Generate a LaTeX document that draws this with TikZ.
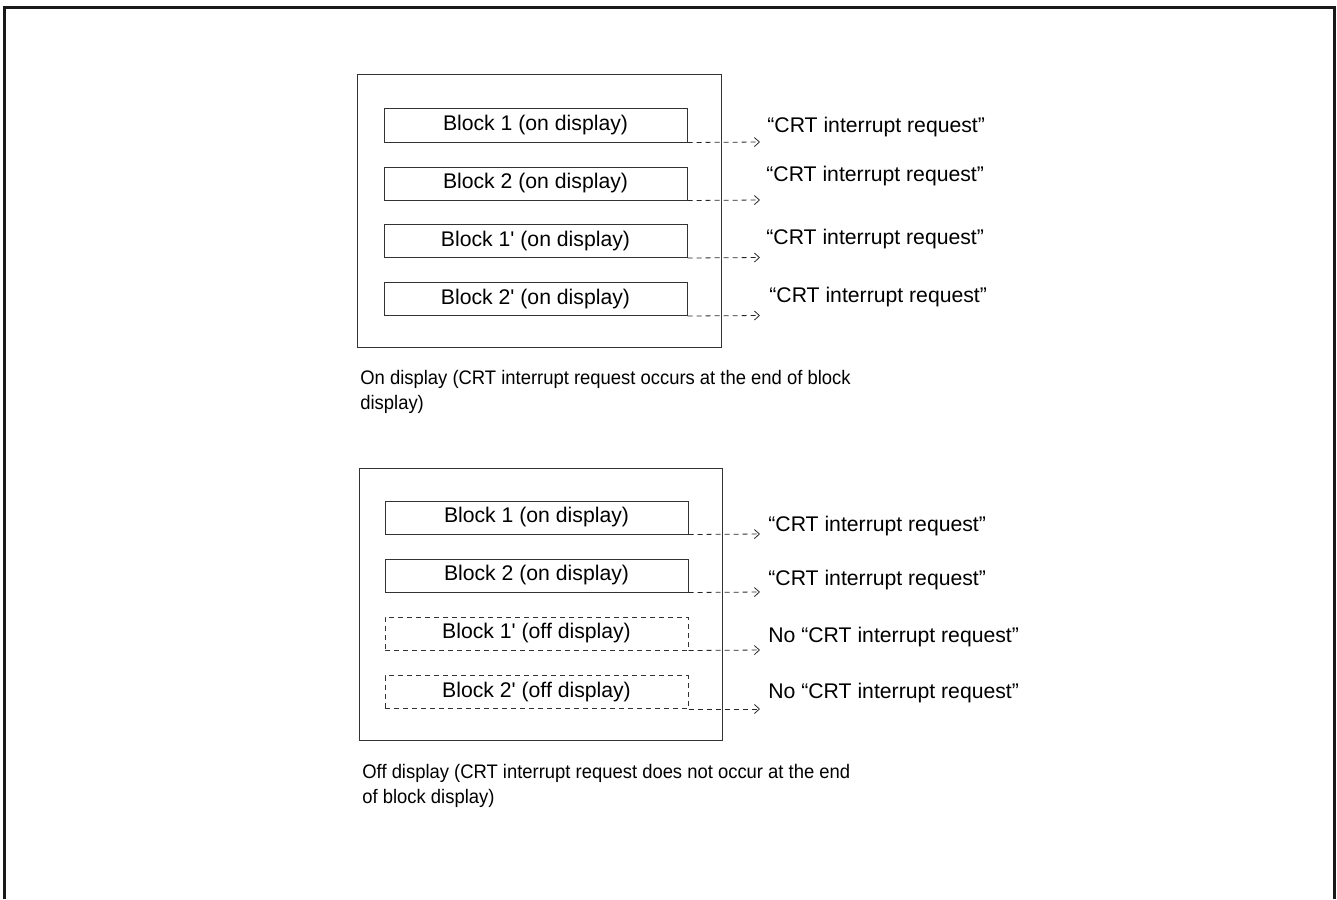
\documentclass[tikz,border=0pt]{standalone}
\usepackage{fontspec}
\setmainfont{Liberation Sans}
\newfontfamily\capfont[FakeStretch=0.94]{Liberation Sans}
\usetikzlibrary{arrows.meta}

\begin{document}
\begin{tikzpicture}[x=0.5pt, y=-0.5pt, font=\fontsize{10.6}{13}\selectfont,
      >={Straight Barb[length=2.5pt,width=4.5pt]},
      panel/.style={draw=black!80, line width=0.5pt},
      block/.style={draw=black!80, line width=0.5pt, rectangle, minimum width=151.5pt, minimum height=16.5pt, inner sep=0pt},
      offblock/.style={block, dash pattern=on 2.5pt off 2pt},
      req/.style={->, black!85, line width=0.4pt, dash pattern=on 2.5pt off 2pt},
      reqlabel/.style={anchor=west, inner sep=0pt},
      caption/.style={anchor=north west, align=left, inner sep=0pt, font=\capfont\fontsize{9.8}{12.5}\selectfont}]
    \useasboundingbox (0,0) rectangle (1337,899);
    % outer frame, open at the bottom
    \draw[line width=1.5pt, black!90] (4.5,899) -- (4.5,7.5) -- (1334.5,7.5) -- (1334.5,899);

    % on display
    \draw[panel] (357,75) rectangle (721,347);
    \node[block] (u1) at (535.5,125.5) {Block 1 (on display)};
    \node[block] (u2) at (535.5,183.5) {Block 2 (on display)};
    \node[block] (u3) at (535.5,241) {Block 1\textquotesingle\ (on display)};
    \node[block] (u4) at (535.5,299) {Block 2\textquotesingle\ (on display)};
    \coordinate (ut1) at (760,142);
    \coordinate (ut2) at (760,200);
    \coordinate (ut3) at (760,257.5);
    \coordinate (ut4) at (760,315.5);
    \draw[req] (u1.south east) -- (ut1);
    \draw[req] (u2.south east) -- (ut2);
    \draw[req] (u3.south east) -- (ut3);
    \draw[req] (u4.south east) -- (ut4);
    \node[reqlabel] (ul1) at (767,127) {“CRT interrupt request”};
    \node[reqlabel] (ul2) at (766,176) {“CRT interrupt request”};
    \node[reqlabel] (ul3) at (766,239) {“CRT interrupt request”};
    \node[reqlabel] (ul4) at (769,297) {“CRT interrupt request”};
    \node[caption] (ucap) at (360,370) {On display (CRT interrupt request occurs at the end of block\\display)};

    % off display
    \draw[panel] (359,468) rectangle (722,740);
    \node[block] (l1) at (536.5,517.5) {Block 1 (on display)};
    \node[block] (l2) at (536.5,575.5) {Block 2 (on display)};
    \node[offblock] (l3) at (536.5,633.5) {Block 1\textquotesingle\ (off display)};
    \node[offblock] (l4) at (536.5,692) {Block 2\textquotesingle\ (off display)};
    \coordinate (lt1) at (760,534);
    \coordinate (lt2) at (760,592);
    \coordinate (lt3) at (760,650);
    \coordinate (lt4) at (760,709);
    \draw[req] (l1.south east) -- (lt1);
    \draw[req] (l2.south east) -- (lt2);
    \draw[req] (l3.south east) -- (lt3);
    \draw[req] (l4.south east) -- (lt4);
    \node[reqlabel] (ll1) at (768,526) {“CRT interrupt request”};
    \node[reqlabel] (ll2) at (768,580) {“CRT interrupt request”};
    \node[reqlabel] (ll3) at (768,637) {No “CRT interrupt request”};
    \node[reqlabel] (ll4) at (768,693) {No “CRT interrupt request”};
    \node[caption] (lcap) at (362,764) {Off display (CRT interrupt request does not occur at the end\\of block display)};
  \end{tikzpicture}
\end{document}
